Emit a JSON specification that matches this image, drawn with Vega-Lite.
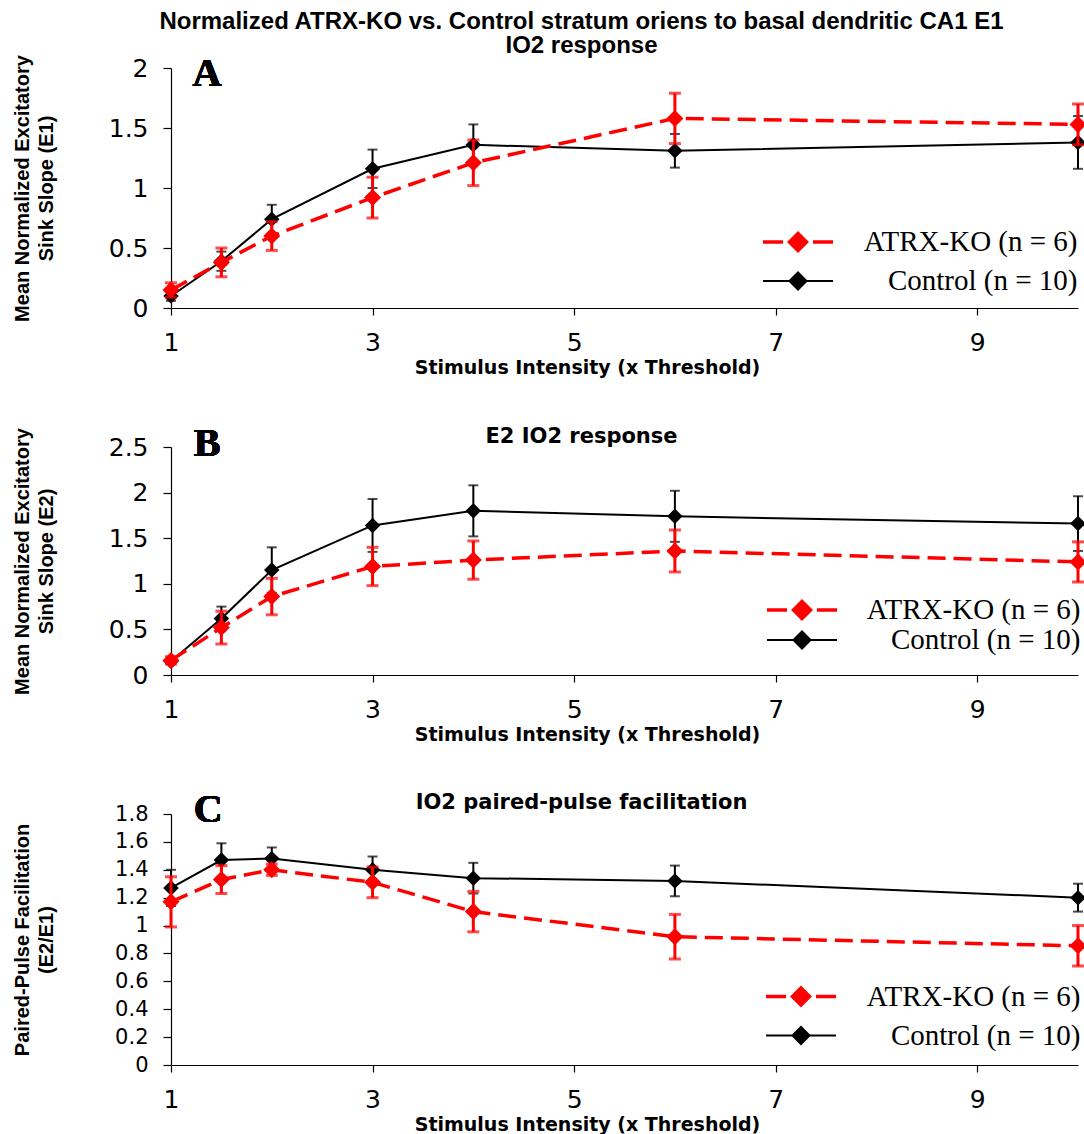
{
  "$schema": "https://vega.github.io/schema/vega-lite/v6.json",
  "background": "white",
  "padding": {"left": 12, "top": 10, "right": 0, "bottom": 0},
  "bounds": "flush",
  "spacing": 139,
  "config": {
    "view": {"stroke": null},
    "axis": {"grid": false, "domainColor": "#000000", "tickColor": "#000000", "labelColor": "#000000", "titleColor": "#000000", "domainWidth": 1.2, "tickWidth": 1.2},
    "axisX": {"format": "d", "tickSize": 7, "labelFlush": false, "labelFont": "DejaVu Sans", "labelFontSize": 25, "labelPadding": 15.5, "titleFont": "DejaVu Sans", "titleFontWeight": "bold", "titleFontSize": 19, "titlePadding": 3, "titleX": 416},
    "axisY": {"format": "~g", "tickSize": 8, "labelFont": "DejaVu Sans", "labelFontSize": 25, "labelPadding": 15, "labelOverlap": false, "titleFont": "Liberation Sans", "titleFontWeight": "bold", "titleFontSize": 20, "titleX": -159, "titleBaseline": "top", "titleAlign": "center", "titleAngle": 270, "titleLineHeight": 24},
    "legend": {"orient": "none", "title": null, "padding": 0, "labelFont": "Liberation Serif", "labelFontSize": 29, "labelColor": "#000000", "labelAlign": "right", "labelLimit": 0, "symbolSize": 289, "symbolOpacity": 1},
    "title": {"color": "#000000", "fontWeight": "bold", "anchor": "middle", "frame": "group", "dx": -43, "baseline": "bottom"}
  },
  "resolve": {
    "scale": {"fill": "independent", "stroke": "independent", "shape": "independent", "strokeWidth": "independent", "x": "independent", "y": "independent"},
    "legend": {"fill": "independent", "stroke": "independent", "shape": "independent", "strokeWidth": "independent"}
  },
  "datasets": {
    "A": [
      {"x": 1, "series": "Control (n = 10)", "mean": 0.10, "err": 0.04},
      {"x": 1.5, "series": "Control (n = 10)", "mean": 0.39, "err": 0.08},
      {"x": 2, "series": "Control (n = 10)", "mean": 0.74, "err": 0.12},
      {"x": 3, "series": "Control (n = 10)", "mean": 1.16, "err": 0.16},
      {"x": 4, "series": "Control (n = 10)", "mean": 1.36, "err": 0.17},
      {"x": 6, "series": "Control (n = 10)", "mean": 1.31, "err": 0.14},
      {"x": 10, "series": "Control (n = 10)", "mean": 1.38, "err": 0.22},
      {"x": 1, "series": "ATRX-KO (n = 6)", "mean": 0.15, "err": 0.06},
      {"x": 1.5, "series": "ATRX-KO (n = 6)", "mean": 0.38, "err": 0.12},
      {"x": 2, "series": "ATRX-KO (n = 6)", "mean": 0.60, "err": 0.12},
      {"x": 3, "series": "ATRX-KO (n = 6)", "mean": 0.92, "err": 0.17},
      {"x": 4, "series": "ATRX-KO (n = 6)", "mean": 1.21, "err": 0.19},
      {"x": 6, "series": "ATRX-KO (n = 6)", "mean": 1.58, "err": 0.21},
      {"x": 10, "series": "ATRX-KO (n = 6)", "mean": 1.53, "err": 0.17}
    ],
    "B": [
      {"x": 1, "series": "Control (n = 10)", "mean": 0.15, "err": 0.03},
      {"x": 1.5, "series": "Control (n = 10)", "mean": 0.62, "err": 0.13},
      {"x": 2, "series": "Control (n = 10)", "mean": 1.15, "err": 0.25},
      {"x": 3, "series": "Control (n = 10)", "mean": 1.64, "err": 0.29},
      {"x": 4, "series": "Control (n = 10)", "mean": 1.80, "err": 0.28},
      {"x": 6, "series": "Control (n = 10)", "mean": 1.74, "err": 0.28},
      {"x": 10, "series": "Control (n = 10)", "mean": 1.66, "err": 0.30},
      {"x": 1, "series": "ATRX-KO (n = 6)", "mean": 0.16, "err": 0.04},
      {"x": 1.5, "series": "ATRX-KO (n = 6)", "mean": 0.52, "err": 0.18},
      {"x": 2, "series": "ATRX-KO (n = 6)", "mean": 0.86, "err": 0.20},
      {"x": 3, "series": "ATRX-KO (n = 6)", "mean": 1.19, "err": 0.21},
      {"x": 4, "series": "ATRX-KO (n = 6)", "mean": 1.26, "err": 0.21},
      {"x": 6, "series": "ATRX-KO (n = 6)", "mean": 1.36, "err": 0.23},
      {"x": 10, "series": "ATRX-KO (n = 6)", "mean": 1.24, "err": 0.22}
    ],
    "C": [
      {"x": 1, "series": "Control (n = 10)", "mean": 1.27, "err": 0.13},
      {"x": 1.5, "series": "Control (n = 10)", "mean": 1.47, "err": 0.12},
      {"x": 2, "series": "Control (n = 10)", "mean": 1.48, "err": 0.08},
      {"x": 3, "series": "Control (n = 10)", "mean": 1.40, "err": 0.095},
      {"x": 4, "series": "Control (n = 10)", "mean": 1.34, "err": 0.11},
      {"x": 6, "series": "Control (n = 10)", "mean": 1.32, "err": 0.11},
      {"x": 10, "series": "Control (n = 10)", "mean": 1.20, "err": 0.10},
      {"x": 1, "series": "ATRX-KO (n = 6)", "mean": 1.17, "err": 0.18},
      {"x": 1.5, "series": "ATRX-KO (n = 6)", "mean": 1.33, "err": 0.10},
      {"x": 2, "series": "ATRX-KO (n = 6)", "mean": 1.40, "err": 0.04},
      {"x": 3, "series": "ATRX-KO (n = 6)", "mean": 1.31, "err": 0.11},
      {"x": 4, "series": "ATRX-KO (n = 6)", "mean": 1.10, "err": 0.145},
      {"x": 6, "series": "ATRX-KO (n = 6)", "mean": 0.92, "err": 0.16},
      {"x": 10, "series": "ATRX-KO (n = 6)", "mean": 0.855, "err": 0.145}
    ]
  },
  "vconcat": [
    {
      "width": 907, "height": 240,
      "title": {"text": ["Normalized ATRX-KO vs. Control stratum oriens to basal dendritic CA1 E1", "IO2 response"], "font": "Liberation Sans", "fontSize": 24, "offset": -4.3, "lineHeight": 24},
      "data": {"name": "A"},
      "encoding": {
        "x": {"field": "x", "type": "quantitative", "scale": {"domain": [1, 10]}, "title": "Stimulus Intensity (x Threshold)", "axis": {"values": [1, 3, 5, 7, 9]}},
        "y": {"field": "mean", "type": "quantitative", "scale": {"domain": [0, 2]}, "title": ["Mean Normalized Excitatory", "Sink Slope (E1)"], "axis": {"values": [0, 0.5, 1, 1.5, 2]}}
      },
      "layer": [
        {"transform": [{"filter": "datum.series === 'Control (n = 10)'"}],
         "mark": {"type": "errorbar", "color": "#000000", "ticks": {"size": 10, "thickness": 2}, "rule": {"strokeWidth": 2}},
         "encoding": {"yError": {"field": "err"}}},
        {"transform": [{"filter": "datum.series === 'Control (n = 10)'"}],
         "mark": {"type": "line", "color": "#000000", "strokeWidth": 2}, "encoding": {}},
        {"transform": [{"filter": "datum.series === 'Control (n = 10)'"}],
         "mark": {"type": "point", "shape": "diamond", "filled": true, "size": 240, "opacity": 1, "color": "#000000"}},
        {"transform": [{"filter": "datum.series === 'ATRX-KO (n = 6)'"}],
         "mark": {"type": "errorbar", "color": "#ff0000", "ticks": {"size": 12, "thickness": 3}, "rule": {"strokeWidth": 3}},
         "encoding": {"yError": {"field": "err"}}},
        {"transform": [{"filter": "datum.series === 'ATRX-KO (n = 6)'"}],
         "mark": {"type": "line", "color": "#ff0000", "strokeWidth": 3.5, "strokeDash": [18, 8]}, "encoding": {}},
        {"transform": [{"filter": "datum.series === 'ATRX-KO (n = 6)'"}],
         "mark": {"type": "point", "shape": "diamond", "filled": true, "size": 289, "opacity": 1, "color": "#ff0000"}},
        {"mark": {"type": "point", "filled": true, "opacity": 0, "size": 289},
         "encoding": {
           "fill": {"field": "series", "type": "nominal", "title": null, "scale": {"domain": ["ATRX-KO (n = 6)", "Control (n = 10)"], "range": ["#ff0000", "#000000"]},
             "legend": {"orient": "none", "legendX": 612.5, "legendY": 159.5, "labelOffset": 265, "rowPadding": 9}},
           "stroke": {"field": "series", "type": "nominal", "title": null, "scale": {"domain": ["ATRX-KO (n = 6)", "Control (n = 10)"], "range": ["#ff0000", "#000000"]}},
           "shape": {"field": "series", "type": "nominal", "title": null, "scale": {"domain": ["ATRX-KO (n = 6)", "Control (n = 10)"], "range": ["M-4.12,0L-1.76,0M1.76,0L4.12,0M-1,0L0,-1L1,0L0,1Z", "M-4.12,0L4.12,0M-1,0L0,-1L1,0L0,1Z"]}},
           "strokeWidth": {"field": "series", "type": "ordinal", "title": null, "scale": {"domain": ["ATRX-KO (n = 6)", "Control (n = 10)"], "range": [3.5, 2]}}}},
        {"mark": {"type": "text", "font": "Liberation Serif", "fontWeight": "bold", "fontSize": 40, "align": "center", "baseline": "middle", "color": "#000000"},
         "encoding": {"x": {"datum": 1.357, "type": "quantitative"}, "y": {"datum": 1.95, "type": "quantitative"}, "text": {"value": "A"}}}
      ]
    },
    {
      "width": 907, "height": 228,
      "title": {"text": "E2 IO2 response", "font": "DejaVu Sans", "fontSize": 21, "offset": -23},
      "data": {"name": "B"},
      "encoding": {
        "x": {"field": "x", "type": "quantitative", "scale": {"domain": [1, 10]}, "title": "Stimulus Intensity (x Threshold)", "axis": {"values": [1, 3, 5, 7, 9]}},
        "y": {"field": "mean", "type": "quantitative", "scale": {"domain": [0, 2.5]}, "title": ["Mean Normalized Excitatory", "Sink Slope (E2)"], "axis": {"values": [0, 0.5, 1, 1.5, 2, 2.5]}}
      },
      "layer": [
        {"transform": [{"filter": "datum.series === 'Control (n = 10)'"}],
         "mark": {"type": "errorbar", "color": "#000000", "ticks": {"size": 10, "thickness": 2}, "rule": {"strokeWidth": 2}},
         "encoding": {"yError": {"field": "err"}}},
        {"transform": [{"filter": "datum.series === 'Control (n = 10)'"}],
         "mark": {"type": "line", "color": "#000000", "strokeWidth": 2}, "encoding": {}},
        {"transform": [{"filter": "datum.series === 'Control (n = 10)'"}],
         "mark": {"type": "point", "shape": "diamond", "filled": true, "size": 240, "opacity": 1, "color": "#000000"}},
        {"transform": [{"filter": "datum.series === 'ATRX-KO (n = 6)'"}],
         "mark": {"type": "errorbar", "color": "#ff0000", "ticks": {"size": 12, "thickness": 3}, "rule": {"strokeWidth": 3}},
         "encoding": {"yError": {"field": "err"}}},
        {"transform": [{"filter": "datum.series === 'ATRX-KO (n = 6)'"}],
         "mark": {"type": "line", "color": "#ff0000", "strokeWidth": 3.5, "strokeDash": [18, 8]}, "encoding": {}},
        {"transform": [{"filter": "datum.series === 'ATRX-KO (n = 6)'"}],
         "mark": {"type": "point", "shape": "diamond", "filled": true, "size": 289, "opacity": 1, "color": "#ff0000"}},
        {"mark": {"type": "point", "filled": true, "opacity": 0, "size": 289},
         "encoding": {
           "fill": {"field": "series", "type": "nominal", "title": null, "scale": {"domain": ["ATRX-KO (n = 6)", "Control (n = 10)"], "range": ["#ff0000", "#000000"]},
             "legend": {"orient": "none", "legendX": 616.5, "legendY": 148.5, "labelOffset": 264, "rowPadding": -3}},
           "stroke": {"field": "series", "type": "nominal", "title": null, "scale": {"domain": ["ATRX-KO (n = 6)", "Control (n = 10)"], "range": ["#ff0000", "#000000"]}},
           "shape": {"field": "series", "type": "nominal", "title": null, "scale": {"domain": ["ATRX-KO (n = 6)", "Control (n = 10)"], "range": ["M-4.12,0L-1.76,0M1.76,0L4.12,0M-1,0L0,-1L1,0L0,1Z", "M-4.12,0L4.12,0M-1,0L0,-1L1,0L0,1Z"]}},
           "strokeWidth": {"field": "series", "type": "ordinal", "title": null, "scale": {"domain": ["ATRX-KO (n = 6)", "Control (n = 10)"], "range": [3.5, 2]}}}},
        {"mark": {"type": "text", "font": "Liberation Serif", "fontWeight": "bold", "fontSize": 40, "align": "center", "baseline": "middle", "color": "#000000"},
         "encoding": {"x": {"datum": 1.357, "type": "quantitative"}, "y": {"datum": 2.53, "type": "quantitative"}, "text": {"value": "B"}}}
      ]
    },
    {
      "width": 907, "height": 251,
      "title": {"text": "IO2 paired-pulse facilitation", "font": "DejaVu Sans", "fontSize": 21, "offset": -23.5},
      "data": {"name": "C"},
      "encoding": {
        "x": {"field": "x", "type": "quantitative", "scale": {"domain": [1, 10]}, "title": "Stimulus Intensity (x Threshold)", "axis": {"values": [1, 3, 5, 7, 9]}},
        "y": {"field": "mean", "type": "quantitative", "scale": {"domain": [0, 1.8]}, "title": ["Paired-Pulse Facilitation", "(E2/E1)"], "axis": {"values": [0, 0.2, 0.4, 0.6, 0.8, 1, 1.2, 1.4, 1.6, 1.8], "labelFontSize": 21}}
      },
      "layer": [
        {"transform": [{"filter": "datum.series === 'Control (n = 10)'"}],
         "mark": {"type": "errorbar", "color": "#000000", "ticks": {"size": 10, "thickness": 2}, "rule": {"strokeWidth": 2}},
         "encoding": {"yError": {"field": "err"}}},
        {"transform": [{"filter": "datum.series === 'Control (n = 10)'"}],
         "mark": {"type": "line", "color": "#000000", "strokeWidth": 2}, "encoding": {}},
        {"transform": [{"filter": "datum.series === 'Control (n = 10)'"}],
         "mark": {"type": "point", "shape": "diamond", "filled": true, "size": 240, "opacity": 1, "color": "#000000"}},
        {"transform": [{"filter": "datum.series === 'ATRX-KO (n = 6)'"}],
         "mark": {"type": "errorbar", "color": "#ff0000", "ticks": {"size": 12, "thickness": 3}, "rule": {"strokeWidth": 3}},
         "encoding": {"yError": {"field": "err"}}},
        {"transform": [{"filter": "datum.series === 'ATRX-KO (n = 6)'"}],
         "mark": {"type": "line", "color": "#ff0000", "strokeWidth": 3.5, "strokeDash": [18, 8]}, "encoding": {}},
        {"transform": [{"filter": "datum.series === 'ATRX-KO (n = 6)'"}],
         "mark": {"type": "point", "shape": "diamond", "filled": true, "size": 289, "opacity": 1, "color": "#ff0000"}},
        {"mark": {"type": "point", "filled": true, "opacity": 0, "size": 289},
         "encoding": {
           "fill": {"field": "series", "type": "nominal", "title": null, "scale": {"domain": ["ATRX-KO (n = 6)", "Control (n = 10)"], "range": ["#ff0000", "#000000"]},
             "legend": {"orient": "none", "legendX": 615.5, "legendY": 168, "labelOffset": 265, "rowPadding": 9}},
           "stroke": {"field": "series", "type": "nominal", "title": null, "scale": {"domain": ["ATRX-KO (n = 6)", "Control (n = 10)"], "range": ["#ff0000", "#000000"]}},
           "shape": {"field": "series", "type": "nominal", "title": null, "scale": {"domain": ["ATRX-KO (n = 6)", "Control (n = 10)"], "range": ["M-4.12,0L-1.76,0M1.76,0L4.12,0M-1,0L0,-1L1,0L0,1Z", "M-4.12,0L4.12,0M-1,0L0,-1L1,0L0,1Z"]}},
           "strokeWidth": {"field": "series", "type": "ordinal", "title": null, "scale": {"domain": ["ATRX-KO (n = 6)", "Control (n = 10)"], "range": [3.5, 2]}}}},
        {"mark": {"type": "text", "font": "Liberation Serif", "fontWeight": "bold", "fontSize": 40, "align": "center", "baseline": "middle", "color": "#000000"},
         "encoding": {"x": {"datum": 1.37, "type": "quantitative"}, "y": {"datum": 1.83, "type": "quantitative"}, "text": {"value": "C"}}}
      ]
    }
  ]
}
